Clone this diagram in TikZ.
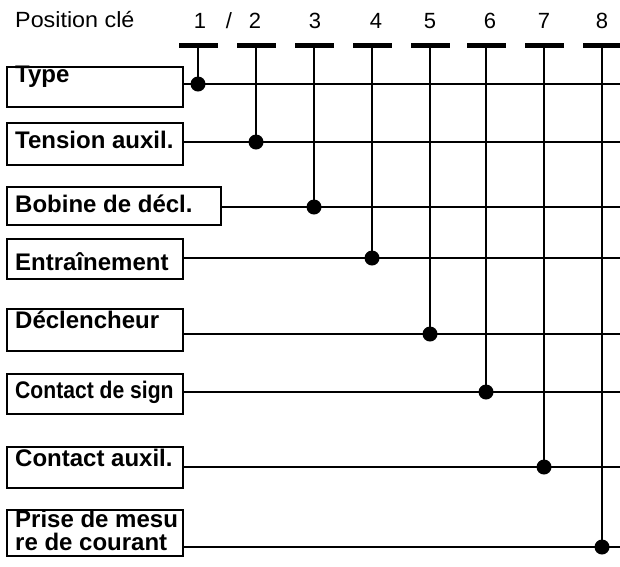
\documentclass[tikz,border=0pt]{standalone}
\usepackage{fontspec}
\setmainfont{Liberation Sans}
\usepackage{graphicx}
\begin{document}
\begin{tikzpicture}[x=1pt,y=-1pt,
  box/.style={draw, line width=1.6pt, anchor=north west, inner sep=0pt, minimum height=#1},
  lbl/.style={anchor=base west, inner sep=0pt, font=\fontsize{24}{26}\selectfont\bfseries},
  hdr/.style={anchor=base, inner sep=0pt, font=\fontsize{22}{24}\selectfont},
  bar/.style={fill=black, draw=none, rectangle, inner sep=0pt, minimum width=39pt, minimum height=5pt},
  dot/.style={fill=black, draw=none, circle, inner sep=0pt, minimum size=15pt},
  wire/.style={line width=1.6pt}]
\useasboundingbox (0,0) rectangle (620,566);

% key position header
\node[hdr, anchor=base west] (poscle) at (15,27) {\scalebox{1.06}[1]{Position clé}};
\node[hdr] (n1) at (200,28) {1};
\node[hdr] (slash) at (229,28) {/};
\node[hdr] (n2) at (255,28) {2};
\node[hdr] (n3) at (315,28) {3};
\node[hdr] (n4) at (376,28) {4};
\node[hdr] (n5) at (430,28) {5};
\node[hdr] (n6) at (490,28) {6};
\node[hdr] (n7) at (544,28) {7};
\node[hdr] (n8) at (602,28) {8};

% option boxes
\node[box=40pt, minimum width=176pt] (type) at (6,66) {};
\node[box=42pt, minimum width=176pt] (tension) at (6,122) {};
\node[box=38pt, minimum width=214pt] (bobine) at (6,186) {};
\node[box=40pt, minimum width=176pt] (entrain) at (6,238) {};
\node[box=42pt, minimum width=176pt] (declen) at (6,308) {};
\node[box=40pt, minimum width=176pt] (csign) at (6,373) {};
\node[box=41pt, minimum width=176pt] (caux) at (6,446) {};
\node[box=46pt, minimum width=176pt] (prise) at (6,509) {};

% box labels
\node[lbl] (ttype) at (15,82) {Type};
\node[lbl] (ttension) at (15,148) {Tension auxil.};
\node[lbl] (tbobine) at (15,212) {Bobine de décl.};
\node[lbl] (tentrain) at (15,270) {Entraînement};
\node[lbl] (tdeclen) at (15,328) {Déclencheur};
\node[lbl] (tcsign) at (15,398) {\scalebox{0.88}[1]{Contact de sign}};
\node[lbl] (tcaux) at (15,466) {Contact auxil.};
\node[lbl] (tprise1) at (15,527) {Prise de mesu};
\node[lbl] (tprise2) at (15,550) {re de courant};

% key bars, taps and horizontal rails
\foreach \k/\nm/\yy/\xx in {1/type/84/198, 2/tension/142/256, 3/bobine/207/314,
    4/entrain/258/372, 5/declen/334/430, 6/csign/392/486, 7/caux/467/544, 8/prise/547/602} {
  \node[bar] (bar\k) at (\xx,45.5) {};
  \coordinate (end\k) at (620,\yy);
  \node[dot] (dot\k) at (\xx,\yy) {};
  \draw[wire] (\nm.east |- end\k) -- (end\k);
  \draw[wire] (bar\k.south) -- (dot\k.center);
}
\end{tikzpicture}
\end{document}
